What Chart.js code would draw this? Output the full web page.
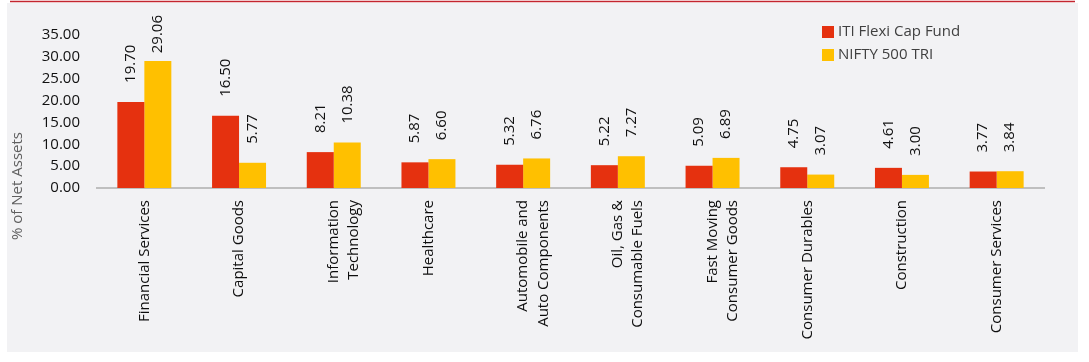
<!DOCTYPE html>
<html>
<head>
<meta charset="utf-8">
<script src="https://cdn.jsdelivr.net/npm/chart.js@4/dist/chart.umd.min.js"></script>
<style>
html,body{margin:0;padding:0;background:#fff;}
#wrap{width:1089px;height:362px;position:relative;}
</style>
</head>
<body>
<div id="wrap"><canvas id="c" width="1089" height="362"></canvas></div>
<script>
const categories = [
  "Financial Services",
  "Capital Goods",
  ["Information", "Technology"],
  "Healthcare",
  ["Automobile and", "Auto Components"],
  ["Oil, Gas &", "Consumable Fuels"],
  ["Fast Moving", "Consumer Goods"],
  "Consumer Durables",
  "Construction",
  "Consumer Services"
];
const fundValues = [19.70, 16.50, 8.21, 5.87, 5.32, 5.22, 5.09, 4.75, 4.61, 3.77];
const niftyValues = [29.06, 5.77, 10.38, 6.60, 6.76, 7.27, 6.89, 3.07, 3.00, 3.84];
const seriesNames = ["ITI Flexi Cap Fund", "NIFTY 500 TRI"];
const yTitle = "% of Net Assets";

const RED = "#e5310f";
const YELLOW = "#ffc000";
const FONT = "'Open Sans', 'Noto Sans', sans-serif";

const bgPlugin = {
  id: "bg",
  beforeDraw(chart) {
    const ctx = chart.ctx;
    ctx.save();
    ctx.fillStyle = "#ffffff";
    ctx.fillRect(0, 0, chart.width, chart.height);
    ctx.fillStyle = "#f2f2f4";
    ctx.fillRect(7, 3, 1071, 349);
    ctx.strokeStyle = "#c3262f";
    ctx.lineWidth = 1.5;
    ctx.beginPath();
    ctx.moveTo(10, 1.5);
    ctx.lineTo(1075, 1.5);
    ctx.stroke();
    ctx.restore();
  }
};

const extrasPlugin = {
  id: "extras",
  afterDatasetsDraw(chart) {
    const ctx = chart.ctx;
    ctx.save();
    ctx.font = "15px " + FONT;
    ctx.fillStyle = "#111111";
    ctx.textAlign = "left";
    ctx.textBaseline = "middle";
    chart.data.datasets.forEach((ds, di) => {
      const meta = chart.getDatasetMeta(di);
      meta.data.forEach((el, i) => {
        const txt = ds.data[i].toFixed(2);
        const w = ctx.measureText(txt).width;
        const bottom = Math.max(el.y - 19, 15 + w);
        ctx.save();
        ctx.translate(el.x, bottom);
        ctx.rotate(-Math.PI / 2);
        ctx.fillText(txt, 0, 0);
        ctx.restore();
      });
    });
    // y axis title
    ctx.save();
    ctx.fillStyle = "#5f5f5f";
    ctx.textAlign = "center";
    ctx.translate(18, 186);
    ctx.rotate(-Math.PI / 2);
    ctx.fillText(yTitle, 0, 0);
    ctx.restore();
    // legend
    const colors = [RED, YELLOW];
    seriesNames.forEach((name, i) => {
      const y = 32 + i * 23;
      ctx.fillStyle = colors[i];
      ctx.fillRect(822, y - 6, 12, 12);
      ctx.fillStyle = "#404040";
      ctx.textAlign = "left";
      ctx.fillText(name, 838, y);
    });
    ctx.restore();
  }
};

new Chart(document.getElementById("c"), {
  type: "bar",
  data: {
    labels: categories,
    datasets: [
      { label: seriesNames[0], data: fundValues, backgroundColor: RED },
      { label: seriesNames[1], data: niftyValues, backgroundColor: YELLOW }
    ]
  },
  options: {
    responsive: false,
    animation: false,
    devicePixelRatio: 1,
    layout: { padding: { top: 35, right: 45, bottom: 0, left: 0 } },
    plugins: { legend: { display: false }, tooltip: { enabled: false } },
    datasets: { bar: { barPercentage: 1, categoryPercentage: 0.57 } },
    scales: {
      x: {
        grid: { display: false, drawTicks: false },
        border: { display: true, color: "#bfbfbf", width: 2 },
        ticks: {
          maxRotation: 90, minRotation: 90, autoSkip: false,
          padding: 12, color: "#0d0d0d",
          font: { family: FONT, size: 15, lineHeight: 1.35 }
        },
        afterFit(s) { s.height = 174; }
      },
      y: {
        min: 0, max: 35,
        grid: { display: false, drawTicks: false },
        border: { display: false },
        ticks: {
          stepSize: 5, padding: 17, color: "#111111",
          font: { family: FONT, size: 15 },
          callback: v => Number(v).toFixed(2)
        },
        afterFit(s) { s.width = 97; }
      }
    }
  },
  plugins: [bgPlugin, extrasPlugin]
});
</script>
</body>
</html>
